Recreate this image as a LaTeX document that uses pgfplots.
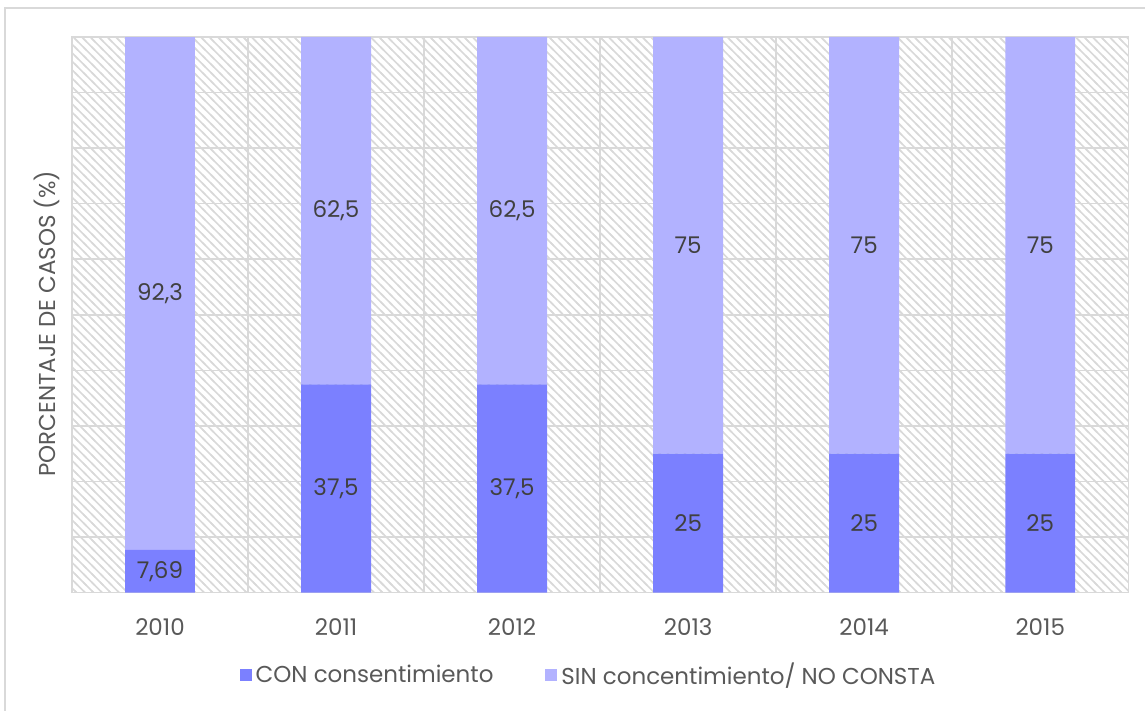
\documentclass[border=0pt]{standalone}
\usepackage{fontspec}
\setmainfont{Poppins}
\usepackage{pgfplots}
\usepackage{pgfplotstable}
\pgfplotsset{compat=1.18}
\usetikzlibrary{patterns.meta}

\definecolor{conC}{HTML}{7B80FF}
\definecolor{sinC}{HTML}{B2B2FF}
\definecolor{gridC}{HTML}{D9D9D9}
\definecolor{txtC}{HTML}{595959}
\definecolor{lblC}{HTML}{404040}

% Excel-like wide downward diagonal hatch
\tikzdeclarepattern{
  name=hatch,
  type=uncolored,
  bounding box={(-1pt,-1pt) and (5.25pt,5.25pt)},
  tile size={(4.25pt,4.25pt)},
  code={\draw[line width=0.8pt] (-1pt,5.25pt) -- (5.25pt,-1pt);}
}

\pgfplotstableread{
x con sin
0 7.69 92.3
1 37.5 62.5
2 37.5 62.5
3 25 75
4 25 75
5 25 75
}\datatable

\begin{document}
\begin{tikzpicture}[font=\fontsize{11.5}{14}\selectfont]
\begin{axis}[
  name=ax,
  scale only axis,
  width=528.5pt,
  height=278pt,
  ybar stacked,
  bar width=35pt,
  xmin=-0.5, xmax=5.5,
  ymin=0, ymax=100,
  xtick={0,1,2,3,4,5},
  xticklabels={2010,2011,2012,2013,2014,2015},
  minor xtick={-0.5,0.5,1.5,2.5,3.5,4.5,5.5},
  xminorgrids,
  ytick={0,10,...,100},
  yticklabels={},
  ymajorgrids,
  major tick length=0pt,
  minor tick length=0pt,
  axis line style={gridC, line width=0.75pt},
  grid style={gridC, line width=0.75pt},
  minor grid style={gridC, line width=0.75pt},
  axis background/.style={pattern=hatch, pattern color=gridC},
  xticklabel style={text=txtC, anchor=center, yshift=-17pt},
  ylabel={PORCENTAJE DE CASOS (\%)},
  ylabel style={at={(axis description cs:-0.0241,0.484)}, anchor=center, text=txtC},
  /pgf/number format/.cd, use comma, assume math mode=true,
  /pgfplots/.cd,
  nodes near coords,
  every node near coord/.append style={anchor=center, text=lblC},
  legend columns=2,
  legend style={at={(0.49,-0.149)}, anchor=center, draw=none, text=txtC,
    /tikz/every even column/.append style={column sep=24pt}},
  legend image code/.code={\fill[#1] (0pt,-3pt) rectangle (6pt,3pt);},
]
\addplot[fill=conC, draw=none] table[x=x, y=con] {\datatable};
\addplot[fill=sinC, draw=none] table[x=x, y=sin] {\datatable};
\legend{CON consentimiento, SIN concentimiento/ NO CONSTA}
\end{axis}
\draw[gridC, line width=0.75pt] ([xshift=-33.5pt,yshift=-59pt]ax.south west) -- ([xshift=-33.5pt,yshift=14.5pt]ax.north west) -- ([xshift=8.5pt,yshift=14.5pt]ax.north east);
\path ([xshift=-36pt,yshift=-59pt]ax.south west) rectangle ([xshift=8.5pt,yshift=18.5pt]ax.north east);
\end{tikzpicture}
\end{document}
